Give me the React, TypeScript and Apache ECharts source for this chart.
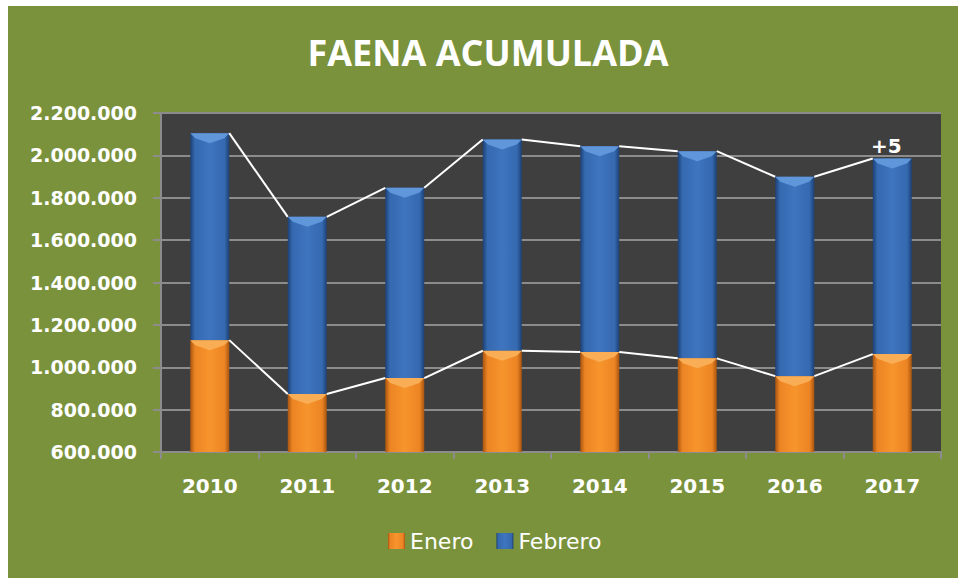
import React, { useEffect, useRef } from "react";
import * as echarts from "echarts";

const years = ["2010", "2011", "2012", "2013", "2014", "2015", "2016", "2017"];
const enero = [1128000, 874000, 949000, 1078000, 1072000, 1042000, 958000, 1062000];
const febrero = [977000, 836000, 898000, 997000, 971000, 978000, 941000, 923000];
const lastLabel = "+5";

const yMin = 600000;
const yMax = 2200000;
const yStep = 200000;

function fmt(v: number): string {
  return String(v).replace(/\B(?=(\d{3})+(?!\d))/g, ".");
}

function barGrad(edge: string, mid: string, center: string) {
  return new echarts.graphic.LinearGradient(0, 0, 1, 0, [
    { offset: 0, color: edge },
    { offset: 0.12, color: mid },
    { offset: 0.5, color: center },
    { offset: 0.88, color: mid },
    { offset: 1, color: edge },
  ]);
}

export default function App() {
  const ref = useRef<HTMLDivElement>(null);
  useEffect(() => {
    if (!ref.current) return;
    const chart = echarts.init(ref.current, undefined, { renderer: "svg" });
    const totals = enero.map((v, i) => v + febrero[i]);
    const lineData = years.slice(0, -1).map((_, i) => [i, i + 1, enero[i], enero[i + 1], totals[i], totals[i + 1]]);
    const bevelData = years.map((_, i) => [i, enero[i], totals[i]]);
    const axisFont = "'DejaVu Sans', sans-serif";
    const bevel = (l: number, r: number, t: number, fill: string) => ({
      type: "polygon",
      shape: {
        points: [
          [l, t],
          [r, t],
          [r - 5, t + 5],
          [(l + r) / 2, t + 10],
          [l + 5, t + 5],
        ],
      },
      style: { fill },
    });
    chart.setOption({
      animation: false,
      backgroundColor: "#7a923c",
      title: {
        text: "FAENA ACUMULADA",
        left: 475,
        textAlign: "center",
        top: 23,
        textStyle: { color: "#ffffff", fontFamily: "'Open Sans', sans-serif", fontWeight: "bold", fontSize: 36 },
      },
      legend: {
        bottom: 21,
        left: 375,
        itemWidth: 17,
        itemHeight: 16,
        itemGap: 23,
        icon: "rect",
        textStyle: { color: "#ffffff", fontFamily: axisFont, fontSize: 22 },
        data: ["Enero", "Febrero"],
      },
      grid: {
        left: 153,
        right: 17,
        top: 107,
        bottom: 126,
        show: true,
        backgroundColor: "#3f3f3f",
        borderWidth: 0,
      },
      xAxis: {
        type: "category",
        data: years,
        axisLine: { show: true, lineStyle: { color: "#8c8c8c", width: 2 } },
        axisTick: { show: true, length: 7, lineStyle: { color: "#8c8c8c", width: 2 } },
        axisLabel: { color: "#ffffff", fontFamily: axisFont, fontWeight: "bold", fontSize: 20, margin: 24 },
      },
      yAxis: {
        type: "value",
        min: yMin,
        max: yMax,
        interval: yStep,
        axisLine: { show: true, lineStyle: { color: "#8c8c8c", width: 2 } },
        axisTick: { show: true, length: 8, lineStyle: { color: "#8c8c8c", width: 2 } },
        splitLine: { show: true, lineStyle: { color: "#8c8c8c", width: 2 } },
        axisLabel: { color: "#ffffff", fontFamily: axisFont, fontWeight: "bold", fontSize: 19, margin: 24, formatter: (v: number) => fmt(v) },
      },
      series: [
        {
          name: "Enero",
          type: "bar",
          stack: "total",
          barWidth: "40%",
          data: enero,
          itemStyle: { color: barGrad("#a9550f", "#ec8424", "#f7952c") },
        },
        {
          name: "Febrero",
          type: "bar",
          stack: "total",
          barWidth: "40%",
          data: febrero.map((v, i) =>
            i === febrero.length - 1
              ? {
                  value: v,
                  label: {
                    show: true,
                    position: "top",
                    formatter: lastLabel,
                    color: "#ffffff",
                    fontFamily: axisFont,
                    fontWeight: "bold",
                    fontSize: 20,
                    offset: [-6, 0],
                    distance: 3,
                  },
                }
              : v
          ),
          itemStyle: { color: barGrad("#1c4176", "#3569b0", "#3e75bf") },
        },
        {
          name: "bevel",
          type: "custom",
          silent: true,
          z: 4,
          data: bevelData,
          encode: { x: 0, y: 2 },
          renderItem: (params: any, api: any) => {
            const i = api.value(0);
            const bw = api.size([1, 0])[0] * 0.2;
            const pe = api.coord([i, api.value(1)]);
            const pt = api.coord([i, api.value(2)]);
            return {
              type: "group",
              children: [
                bevel(pe[0] - bw, pe[0] + bw, pe[1], "#f9ad55"),
                bevel(pt[0] - bw, pt[0] + bw, pt[1], "#6096da"),
              ],
            };
          },
        },
        {
          name: "lines",
          type: "custom",
          silent: true,
          z: 5,
          data: lineData,
          encode: { x: 0, y: 2 },
          renderItem: (params: any, api: any) => {
            const a = api.value(0);
            const b = api.value(1);
            const bw = api.size([1, 0])[0] * 0.2;
            const p1 = api.coord([a, api.value(2)]);
            const p2 = api.coord([b, api.value(3)]);
            const p3 = api.coord([a, api.value(4)]);
            const p4 = api.coord([b, api.value(5)]);
            const st = { stroke: "#ffffff", lineWidth: 2, fill: null };
            return {
              type: "group",
              children: [
                { type: "line", shape: { x1: p1[0] + bw, y1: p1[1], x2: p2[0] - bw, y2: p2[1] }, style: st },
                { type: "line", shape: { x1: p3[0] + bw, y1: p3[1], x2: p4[0] - bw, y2: p4[1] }, style: st },
              ],
            };
          },
        },
      ],
    });
    return () => chart.dispose();
  }, []);
  return (
    <div
      ref={ref}
      style={{ position: "absolute", left: 8, top: 6, width: 950, height: 572 }}
    />
  );
}
